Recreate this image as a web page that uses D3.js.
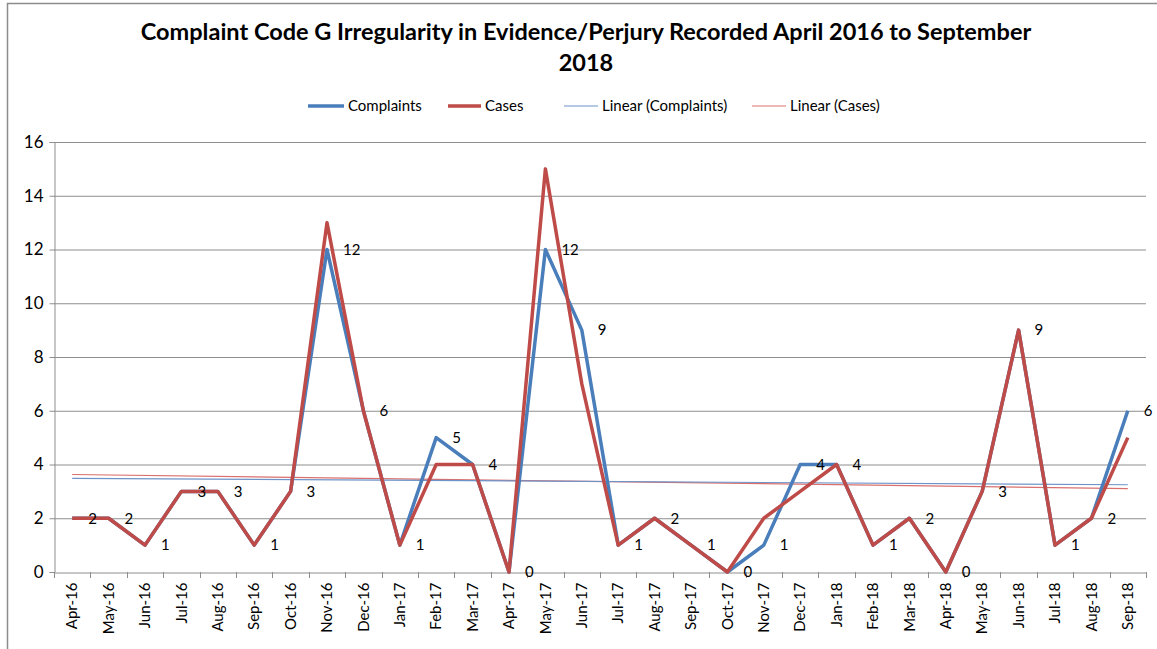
<!DOCTYPE html>
<html>
<head>
<meta charset="utf-8">
<script src="https://cdn.jsdelivr.net/npm/d3@7"></script>
<style>
  body { margin: 0; background: #fff; }
  svg { display: block; font-family: Lato, "Open Sans", sans-serif; }
</style>
</head>
<body>
<div id="container"></div>
<script>
// Données
const months = ["Apr-16","May-16","Jun-16","Jul-16","Aug-16","Sep-16","Oct-16","Nov-16","Dec-16",
  "Jan-17","Feb-17","Mar-17","Apr-17","May-17","Jun-17","Jul-17","Aug-17","Sep-17","Oct-17","Nov-17","Dec-17",
  "Jan-18","Feb-18","Mar-18","Apr-18","May-18","Jun-18","Jul-18","Aug-18","Sep-18"];
const complaints = [2,2,1,3,3,1,3,12,6,1,5,4,0,12,9,1,2,1,0,1,4,4,1,2,0,3,9,1,2,6];
const cases      = [2,2,1,3,3,1,3,13,6,1,4,4,0,15,7,1,2,1,0,2,3,4,1,2,0,3,9,1,2,5];
const yTicks = [0,2,4,6,8,10,12,14,16];

const titleLines = ["Complaint Code G Irregularity in Evidence/Perjury Recorded April 2016 to September", "2018"];

const blue = "#4a7ebb";
const red = "#be4b48";

const main = (container) => {
  const W = 1157, H = 649;
  const plot = { left: 54, right: 1146, top: 142, bottom: 572 };

  const svg = d3.select(container).append("svg")
    .attr("width", W).attr("height", H);

  // Cadre du graphique
  svg.append("rect")
    .attr("x", 7.5).attr("y", 3.5)
    .attr("width", W + 20).attr("height", H + 20)
    .attr("fill", "none").attr("stroke", "#8c8c8c").attr("stroke-width", 1.5);

  // Échelles
  const x = d3.scaleBand().domain(months).range([plot.left, plot.right]);
  const xc = m => x(m) + x.bandwidth() / 2;
  const y = d3.scaleLinear().domain([0, 16]).range([plot.bottom, plot.top]);

  // Grille
  svg.append("g").selectAll("line").data(yTicks.filter(d => d > 0)).enter().append("line")
    .attr("x1", plot.left).attr("x2", plot.right)
    .attr("y1", d => y(d) + 0.5).attr("y2", d => y(d) + 0.5)
    .attr("stroke", "#8e8e8e").attr("stroke-width", 1);

  // Axe Y
  const yAxis = svg.append("g")
    .attr("transform", `translate(${plot.left + 0.5},0)`)
    .call(d3.axisLeft(y).tickValues(yTicks).tickSize(5).tickPadding(6));
  yAxis.select(".domain").attr("stroke", "#8e8e8e");
  yAxis.selectAll(".tick line").attr("stroke", "#8e8e8e");
  yAxis.selectAll("text").style("font-size", "17px").attr("fill", "#000")
    .style("font-family", "Lato, sans-serif");

  // Axe X
  const xAxis = svg.append("g")
    .attr("transform", `translate(0,${plot.bottom + 0.5})`)
    .call(d3.axisBottom(x).tickSize(0).tickSizeOuter(0));
  xAxis.select(".domain").attr("stroke", "#8e8e8e");
  xAxis.selectAll("text")
    .attr("transform", "rotate(-90)")
    .attr("x", -10).attr("y", 0).attr("dy", "0.35em")
    .style("text-anchor", "end")
    .style("font-size", "15px")
    .style("font-family", "Lato, sans-serif")
    .attr("fill", "#000");

  // Graduations entre catégories
  const edges = months.map(m => x(m)).concat([plot.right]);
  svg.append("g").selectAll("line").data(edges).enter().append("line")
    .attr("x1", d => Math.round(d) + 0.5).attr("x2", d => Math.round(d) + 0.5)
    .attr("y1", plot.bottom).attr("y2", plot.bottom + 6)
    .attr("stroke", "#8e8e8e");

  // Tendances linéaires (moindres carrés)
  const trend = (vals) => {
    const n = vals.length;
    const xs = d3.range(n);
    const mx = d3.mean(xs), my = d3.mean(vals);
    const b = d3.sum(xs, i => (i - mx) * (vals[i] - my)) / d3.sum(xs, i => (i - mx) ** 2);
    const a = my - b * mx;
    return [a, a + b * (n - 1)];
  };

  const line = d3.line().x((d, i) => xc(months[i])).y(d => y(d));

  const trendC = trend(complaints);
  const trendK = trend(cases);

  svg.append("line")
    .attr("x1", xc(months[0])).attr("x2", xc(months[months.length - 1]))
    .attr("y1", y(trendK[0])).attr("y2", y(trendK[1]))
    .attr("stroke", "#d9706d").attr("stroke-width", 1.2);
  svg.append("line")
    .attr("x1", xc(months[0])).attr("x2", xc(months[months.length - 1]))
    .attr("y1", y(trendC[0])).attr("y2", y(trendC[1]))
    .attr("stroke", "#6d93c8").attr("stroke-width", 1.2);

  // Séries
  svg.append("path").datum(complaints)
    .attr("d", line).attr("fill", "none")
    .attr("stroke", blue).attr("stroke-width", 3.5).attr("stroke-linejoin", "round");
  svg.append("path").datum(cases)
    .attr("d", line).attr("fill", "none")
    .attr("stroke", red).attr("stroke-width", 3.5).attr("stroke-linejoin", "round");

  // Étiquettes de données (Complaints)
  svg.append("g").selectAll("text").data(complaints).enter().append("text")
    .attr("x", (d, i) => xc(months[i]) + 16)
    .attr("y", d => y(d))
    .attr("dy", "0.35em")
    .style("font-size", "15px")
    .attr("fill", "#000")
    .text(d => d);

  // Titre
  svg.append("g").selectAll("text").data(titleLines).enter().append("text")
    .attr("x", 586)
    .attr("y", (d, i) => 40 + i * 31)
    .attr("text-anchor", "middle")
    .style("font-size", "23.5px")
    .style("font-weight", "bold")
    .attr("fill", "#000")
    .text(d => d);

  // Légende
  const legendItems = [
    { label: "Complaints", color: blue, w: 3.5, x0: 308, x1: 344 },
    { label: "Cases", color: red, w: 3.5, x0: 448, x1: 481 },
    { label: "Linear (Complaints)", color: "#6d93c8", w: 1, x0: 564, x1: 598 },
    { label: "Linear (Cases)", color: "#d9706d", w: 1, x0: 752, x1: 786 }
  ];
  const lg = svg.append("g").selectAll("g").data(legendItems).enter().append("g");
  lg.append("line")
    .attr("x1", d => d.x0).attr("x2", d => d.x1)
    .attr("y1", 106).attr("y2", 106)
    .attr("stroke", d => d.color).attr("stroke-width", d => d.w);
  lg.append("text")
    .attr("x", d => d.x1 + 4).attr("y", 106).attr("dy", "0.35em")
    .style("font-size", "15px")
    .attr("fill", "#000")
    .text(d => d.label);
};

main(document.getElementById("container"));
</script>
</body>
</html>
